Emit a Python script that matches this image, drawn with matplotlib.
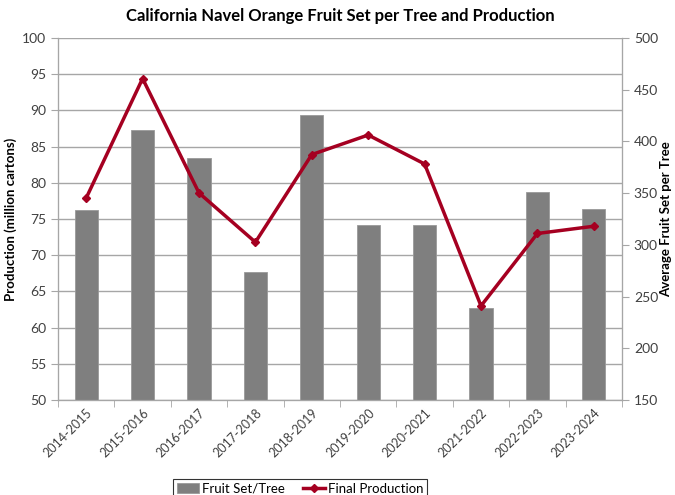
import matplotlib
matplotlib.use('Agg')
import numpy as np
import matplotlib.pyplot as plt

plt.rcParams['font.family'] = ['Lato', 'DejaVu Sans']

seasons = ['2014-2015', '2015-2016', '2016-2017', '2017-2018', '2018-2019',
           '2019-2020', '2020-2021', '2021-2022', '2022-2023', '2023-2024']
fruit_set = [334, 411, 384, 274, 426, 319, 319, 239, 351, 335]
production = [77.9, 94.4, 78.6, 71.8, 83.9, 86.6, 82.6, 63.0, 73.0, 74.0]

bar_color = '#7f7f7f'
line_color = '#a50021'
grid_color = '#a6a6a6'
text_color = '#404040'

fig = plt.figure(figsize=(6.75, 4.95), dpi=100)
ax = fig.add_axes([58 / 675, 1 - 400 / 495, 564 / 675, 362 / 495])
x = np.arange(len(seasons))

# left axis: production, carries the gridlines
ax.set_ylim(50, 100)
ax.set_yticks(np.arange(50, 101, 5))
ax.set_xlim(-0.5, len(seasons) - 0.5)
ax.grid(axis='y', color=grid_color, lw=1)
ax.set_axisbelow(True)
ax.set_ylabel('Production (million cartons)', fontsize=9.5, fontweight='bold', labelpad=4)
ax.set_xticks(x)
ax.set_xticklabels(seasons, rotation=45, ha='right', rotation_mode='anchor', fontsize=9,
                   color=text_color)
ax.tick_params(axis='x', length=0, pad=5)
ax.set_xticks(np.arange(-0.5, len(seasons), 1), minor=True)
ax.tick_params(axis='x', which='minor', length=5, color=grid_color)
ax.tick_params(axis='y', length=5, color=grid_color, labelsize=10, labelcolor=text_color)

# right axis: fruit set per tree (bars)
ax2 = ax.twinx()
ax2.bar(x, fruit_set, width=0.41, color=bar_color, edgecolor='#9a9a9a', lw=0.6,
        label='Fruit Set/Tree')
ax2.set_ylim(150, 500)
ax2.set_yticks(np.arange(150, 501, 50))
ax2.tick_params(axis='y', length=5, color=grid_color, labelsize=10, labelcolor=text_color)
ax2.set_ylabel('Average Fruit Set per Tree', fontsize=9.5, fontweight='bold')
ax2.yaxis.set_label_coords(1.068, 0.5)

# line on top, same scale as left axis
ax3 = ax.twinx()
ax3.set_ylim(50, 100)
ax3.plot(x, production, color=line_color, lw=2.5, marker='D', markersize=4,
         label='Final Production')
ax3.set_yticks([])
ax3.patch.set_visible(False)

for a in (ax, ax2, ax3):
    for s in a.spines.values():
        s.set_color(grid_color)
    a.spines['top'].set_visible(False)

ax.set_title('California Navel Orange Fruit Set per Tree and Production',
             fontsize=12, fontweight='bold', pad=12)

h1, l1 = ax2.get_legend_handles_labels()
h2, l2 = ax3.get_legend_handles_labels()
leg = fig.legend(h1 + h2, l1 + l2, loc='upper center', bbox_to_anchor=(300 / 675, 1 - 472 / 495),
                 ncol=2, fontsize=9.5, frameon=True, fancybox=False, borderpad=0.3,
                 handlelength=1.7, handletextpad=0.2, columnspacing=1.4)
leg.get_frame().set_edgecolor('#000000')
leg.get_frame().set_linewidth(0.8)

fig.savefig('out.png', dpi=100)
